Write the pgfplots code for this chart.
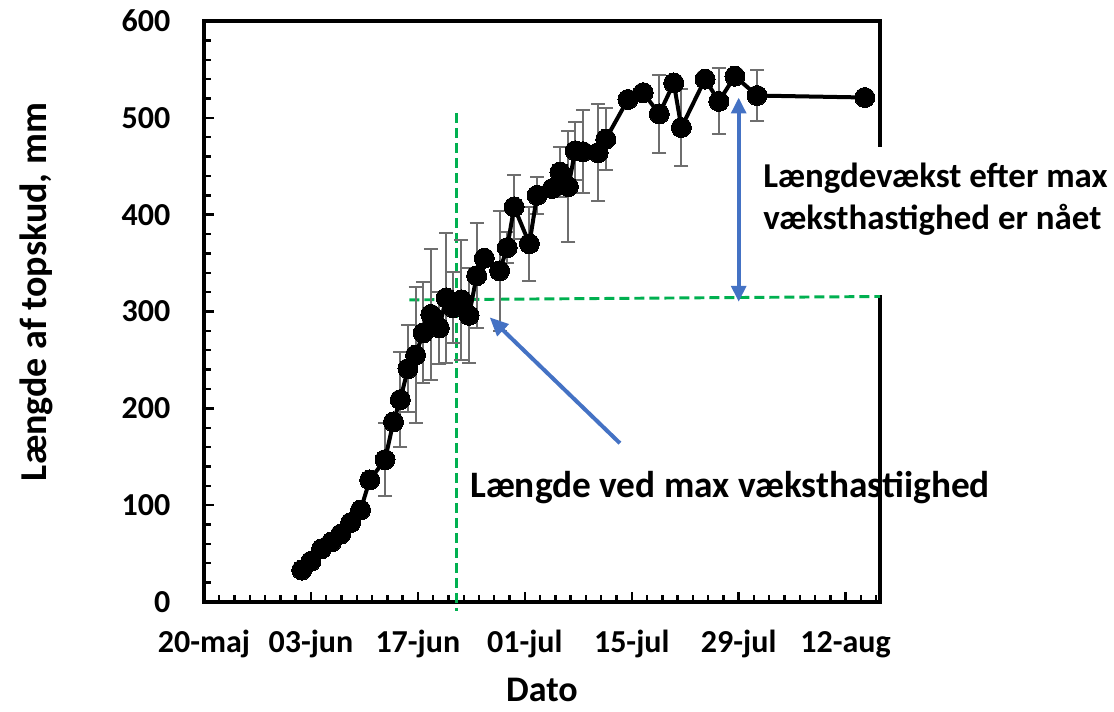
\documentclass[border=0pt]{standalone}
\usepackage{pgfplots}
\pgfplotsset{compat=1.18}
\usepackage{pgfplotstable}
\usepackage{fontspec}
\setmainfont{Carlito}
\usetikzlibrary{arrows.meta}

\definecolor{xlgreen}{HTML}{00B050}
\definecolor{xlblue}{HTML}{4472C4}
\definecolor{errgray}{HTML}{6E6E6E}

% day (0 = 20-maj), shoot length (mm), standard deviation
\pgfplotstableread{
d     v    e
12.8  33   0
14.0  42   0
15.4  55   0
16.7  62   0
17.9  70   0
19.2  82   0
20.5  95   0
21.7  126  0
23.7  147  38
24.8  186  0
25.7  209  49
26.7  241  45
27.7  255  70
28.7  278  52
29.7  297  68
30.8  283  37
31.7  314  67
32.6  304  37
33.7  312  62
34.7  296  49
35.7  337  54
36.7  355  0
38.7  342  62
39.7  366  16
40.6  408  33
42.6  370  38
43.6  420  19
45.6  427  0
46.6  444  26
47.7  429  57
48.6  466  30
49.6  465  43
51.6  464  50
52.6  478  32
55.5  519  0
57.5  526  0
59.6  504  40
61.5  536  0
62.5  490  40
65.6  540  0
67.4  517  34
69.5  543  0
72.4  523  26
86.5  521  0
}\shootdata

\begin{document}
\begin{tikzpicture}
\path[use as bounding box] (0,0) rectangle (835.5pt,533.25pt);
\begin{axis}[
  at={(153pt,81.75pt)}, anchor=south west,
  scale only axis, width=507pt, height=435.75pt,
  xmin=0, xmax=88.5, ymin=0, ymax=600,
  clip=false,
  axis line style={line width=2.6pt, black},
  every outer x axis line/.append style={line width=2.6pt},
  every outer y axis line/.append style={line width=2.6pt},
  every axis/.append style={line width=2.6pt},
  tick align=inside,
  xtick pos=left, ytick pos=left,
  xtick={0,14,28,42,56,70,84},
  xticklabels={20-maj,03-jun,17-jun,01-jul,15-jul,29-jul,12-aug},
  minor xtick={0,2,...,88},
  ytick={0,100,...,600},
  yticklabels={0,100,200,300,400,500,600},
  minor ytick={0,20,...,600},
  major tick length=7.5pt, minor tick length=5pt,
  every tick/.style={black, line width=1.8pt},
  xticklabel style={font=\bfseries\fontsize{24}{28}\selectfont, anchor=base, yshift=-38pt},
  yticklabel style={font=\bfseries\fontsize{24}{28}\selectfont, anchor=east, inner sep=0pt, xshift=-24pt},
]
% reference lines at the point of maximum growth rate
\draw[xlgreen, line width=2.2pt, dash pattern=on 7.5pt off 3.75pt]
  (axis cs:33.05,505) -- (axis cs:33.05,-9);
\draw[xlgreen, line width=2.2pt, dash pattern=on 7.5pt off 3.75pt]
  (axis cs:26.9,312) -- (axis cs:88.5,315.5);

% standard deviations
\addplot[forget plot, only marks, mark=none,
  error bars/.cd, y dir=both, y explicit,
  error bar style={line width=1.5pt, errgray},
  error mark options={rotate=90, mark size=5.25pt, line width=1.5pt, errgray}]
  table[x=d, y=v, y error=e] {\shootdata};

% mean shoot length
\addplot[black, line width=3pt, mark=*, mark size=7.5pt,
  mark options={fill=black, line width=0pt}]
  table[x=d, y=v] {\shootdata};

% annotation arrows
\draw[xlblue, line width=3pt, -{Triangle[length=14pt,width=12pt]}]
  (axis cs:54.45,164) -- (axis cs:37.4,294);
\draw[xlblue, line width=3pt, {Triangle[length=12pt,width=11pt]}-{Triangle[length=12pt,width=11pt]}]
  (axis cs:70.0,310) -- (axis cs:70.0,521);
\end{axis}

\begin{scope}[x=0.75pt, y=-0.75pt, shift={(0pt,533.25pt)}]
% axis titles
\node[rotate=90, font=\bfseries\fontsize{28.5}{34}\selectfont] at (36,292) {Længde af topskud, mm};
\node[font=\bfseries\fontsize{27}{32}\selectfont] at (542,690) {Dato};

% annotation texts
\node[anchor=base west, inner sep=0pt, font=\bfseries\fontsize{28}{33}\selectfont] at (470,498) {Længde ved max væksthastiighed};
\fill[white] (748,147) rectangle (1114,295);
\node[anchor=base west, inner sep=0pt, font=\bfseries\fontsize{26.2}{31}\selectfont] at (763,188) {Længdevækst efter max};
\node[anchor=base west, inner sep=0pt, font=\bfseries\fontsize{26.2}{31}\selectfont] at (763,230) {væksthastighed er nået};
\end{scope}
\end{tikzpicture}
\end{document}
